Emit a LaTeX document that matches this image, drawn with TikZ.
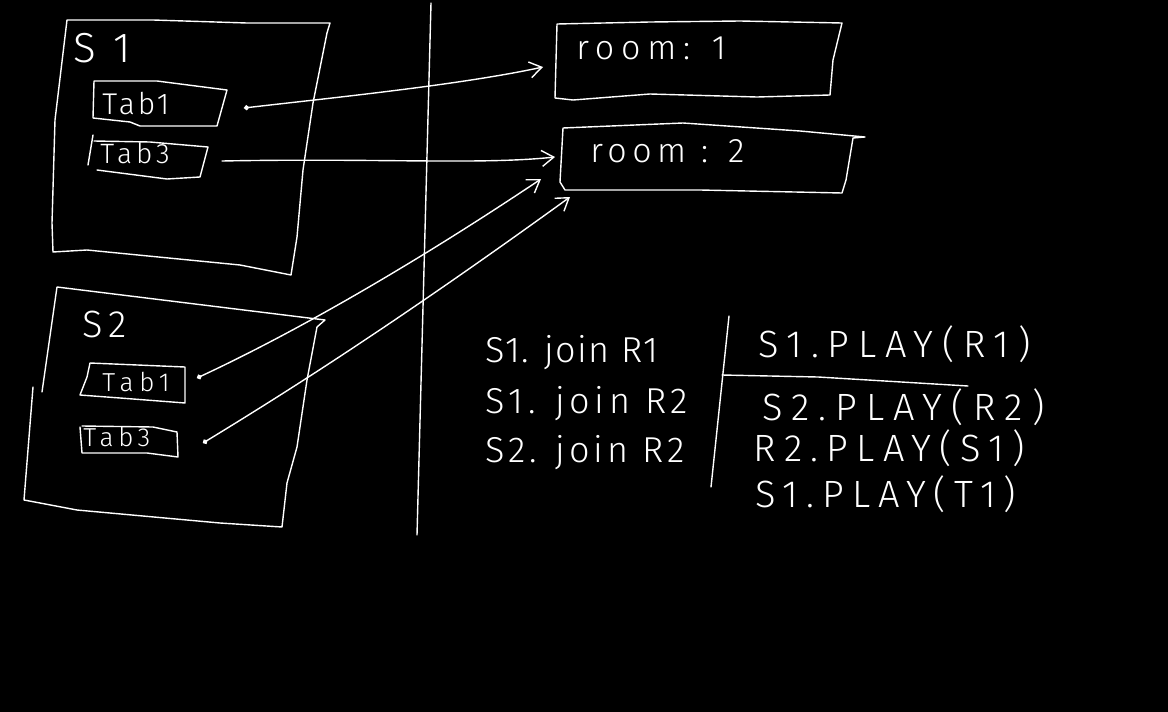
\documentclass[tikz,border=0pt]{standalone}
\usepackage{fontspec}
\setmainfont{Fira Sans}[UprightFont=* Light]
\usetikzlibrary{arrows.meta}
\newcommand{\fsz}[2]{\fontsize{#1}{#1}\selectfont\addfontfeature{LetterSpace=#2}}
\begin{document}
\begin{tikzpicture}[x=0.5pt,y=-0.5pt,
  ink/.style={draw=white,line width=0.7pt,line join=round,line cap=round},
  conn/.style={ink,-{Straight Barb[length=6pt,width=8pt]}},
  dotconn/.style={ink,{Circle[length=2.5pt]}-{Straight Barb[length=6pt,width=8pt]}},
  txt/.style={text=white,inner sep=0pt,anchor=base west},
]
\fill[black] (0,0) rectangle (1168,712);
\useasboundingbox (0,0) rectangle (1168,712);

% ---- S1 container and its tabs
\draw[ink] (67,20) -- (153,20) -- (247,23) -- (330,23) -- (327,33) -- (313,103) -- (303,170) -- (297,237) -- (291,275) -- (240,265) -- (87,250) -- (53,252) -- (52,223) -- (55,120) -- cycle;
\draw[ink] (94,81) -- (157,81) -- (227,90) -- (217,126) -- (140,126) -- (130,122) -- (93,118) -- cycle;
\draw[ink] (94,141) -- (150,142) -- (208,147) -- (200,177) -- (167,179) -- (97,170);
\draw[ink] (93,135) -- (88,165);
\node[txt,font=\fsz{21}{45}] (s1lbl) at (73,62) {S1};
\node[txt,font=\fsz{15}{10}] (s1t1) at (102,114) {Tab1};
\node[txt,font=\fsz{14}{15}] (s1t3) at (100,163) {Tab3};

% ---- S2 container and its tabs
\draw[ink] (42,392) -- (57,287) -- (325,320) -- (317,327) -- (307,380) -- (297,447) -- (287,483) -- (282,527) -- (220,523) -- (77,510) -- (40,503) -- (24,500) -- (33,387);
\draw[ink] (90,363) -- (185,367) -- (185,403) -- (120,398) -- (80,395) -- (87,377) -- cycle;
\draw[ink] (82,426) -- (153,427) -- (177,432) -- (178,457) -- (147,453) -- (82,453) -- (80,427);
\node[txt,font=\fsz{19}{16}] (s2lbl) at (82,337) {S2};
\node[txt,font=\fsz{13}{22}] (s2t1) at (102,391) {Tab1};
\node[txt,font=\fsz{13}{18}] (s2t3) at (83,446) {Tab3};

% ---- divider
\draw[ink] (431,3) -- (417,535);

% ---- rooms
\draw[ink] (557,24) -- (650,22) -- (740,21) -- (842,23) -- (833,60) -- (830,95) -- (757,97) -- (650,94) -- (573,100) -- (555,98) -- cycle;
\draw[ink] (563,128) -- (683,123) -- (800,131) -- (865,137) -- (853,138) -- (846,180) -- (842,193) -- (700,190) -- (565,190) -- (560,182) -- cycle;
\node[txt,font=\fsz{17}{20}] (r1) at (576,59) {room: 1};
\node[txt,font=\fsz{17}{16}] (r2) at (590,162) {room : 2};

% ---- connector end points
\coordinate (a1s) at (244,108); \coordinate (a1e) at (543,67);
\coordinate (a2s) at (222,161); \coordinate (a2e) at (555,157);
\coordinate (a3s) at (197,378); \coordinate (a3e) at (541,179);
\coordinate (a4s) at (203,443); \coordinate (a4e) at (570,197);

\draw[dotconn] (a1s) .. controls (330,98) and (460,85) .. (a1e);
\draw[conn] (a2s) .. controls (380,158) and (480,165) .. (a2e);
\draw[dotconn] (a3s) .. controls (300,330) and (420,260) .. (a3e);
\draw[dotconn] (a4s) .. controls (290,390) and (400,320) .. (a4e);

% ---- join list
\node[txt,font=\fsz{18}{4}] (j1) at (485,362) {S1. join R1};
\node[txt,font=\fsz{18}{13}] (j2) at (485,413) {S1. join R2};
\node[txt,font=\fsz{18}{11}] (j3) at (485,462) {S2. join R2};

% ---- table lines
\draw[ink] (729,316) -- (711,487);
\draw[ink] (722,375) -- (818,377) -- (968,386);

% ---- play list
\node[txt,font=\fsz{19}{23}] (p1) at (758,357) {S1.PLAY(R1)};
\node[txt,font=\fsz{19}{24}] (p2) at (762,420) {S2.PLAY(R2)};
\node[txt,font=\fsz{19}{22}] (p3) at (753,461) {R2.PLAY(S1)};
\node[txt,font=\fsz{19}{21}] (p4) at (755,507) {S1.PLAY(T1)};
\end{tikzpicture}
\end{document}
